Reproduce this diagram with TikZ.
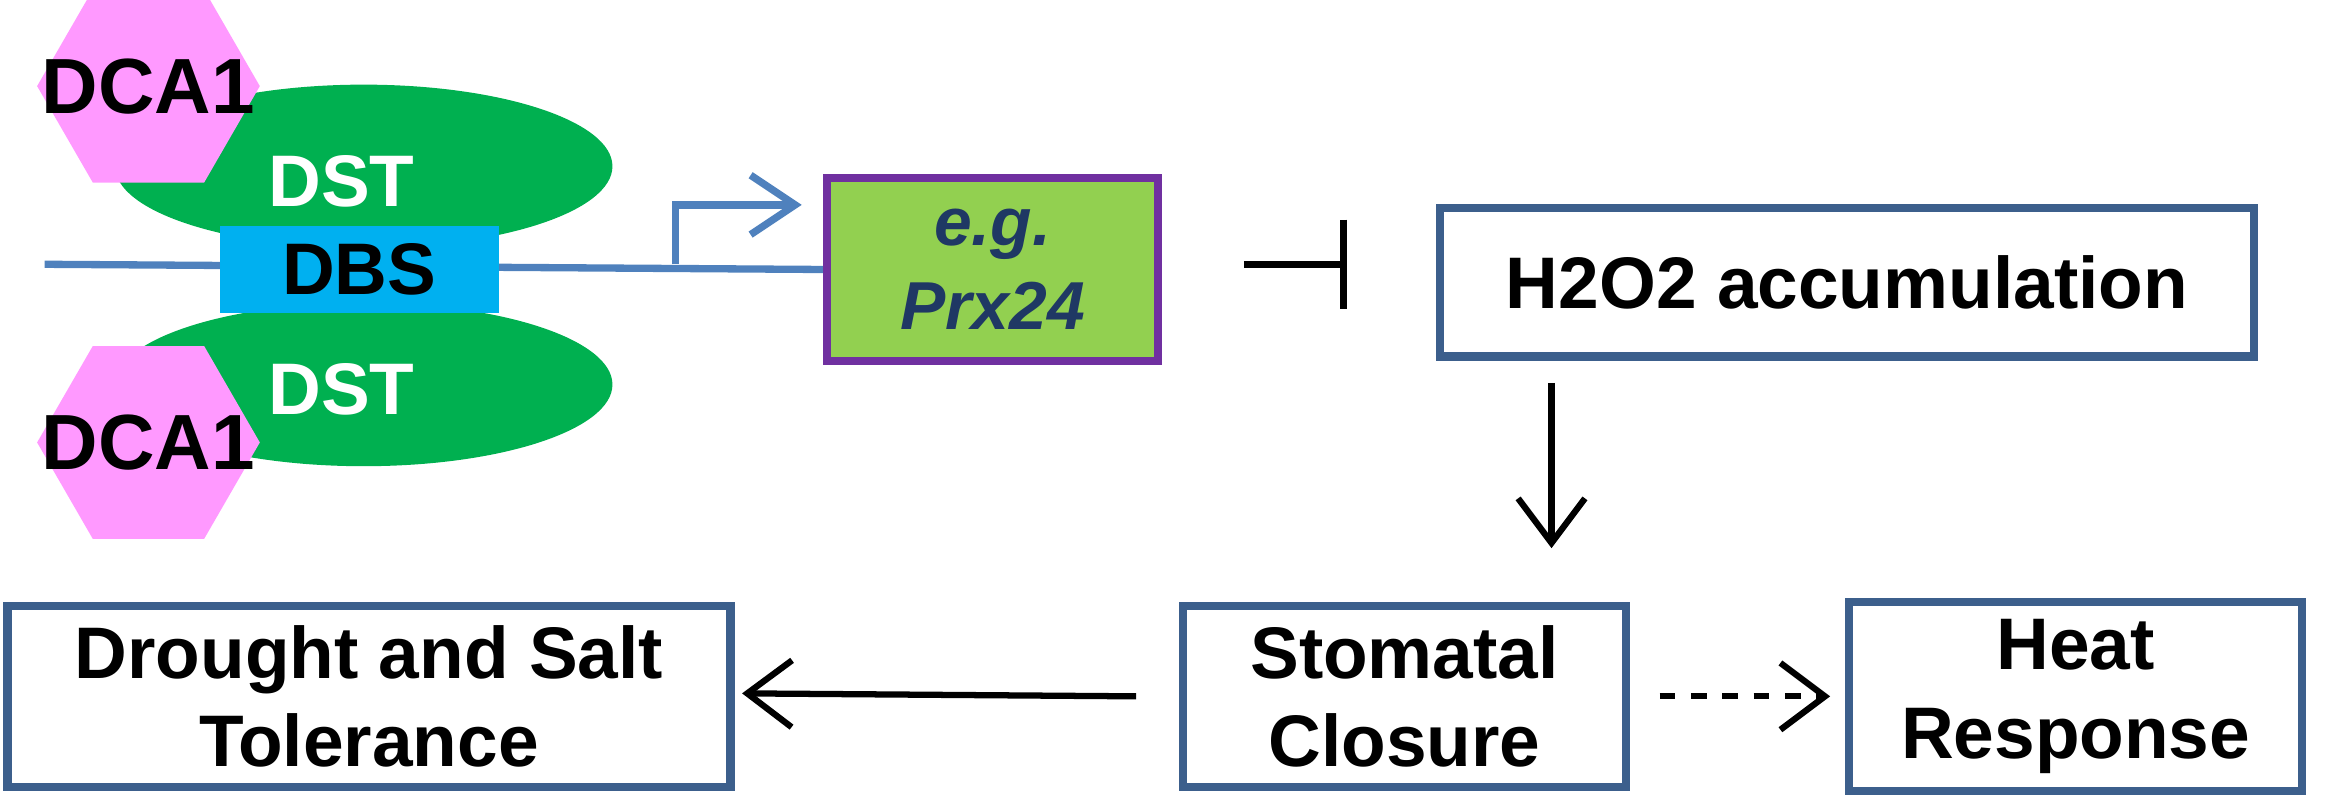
\documentclass[tikz,border=0pt]{standalone}
\usepackage{fontspec}
\setmainfont{Liberation Sans}
\usetikzlibrary{shapes.geometric,arrows.meta,positioning,calc}
\definecolor{dstgreen}{HTML}{00B050}
\definecolor{dbscyan}{HTML}{00B0F0}
\definecolor{dcapink}{HTML}{FF99FF}
\definecolor{dnablue}{HTML}{4F81BD}
\definecolor{boxblue}{HTML}{3C5F8C}
\definecolor{genegreen}{HTML}{92D050}
\definecolor{genepurple}{HTML}{7030A0}
\definecolor{genetext}{HTML}{1F3864}

\begin{document}
\begin{tikzpicture}[
    x=1cm, y=1cm,
    dst/.style={ellipse, fill=dstgreen, minimum width=3.35cm, minimum height=1.1cm, inner sep=0pt},
    dca/.style={regular polygon, regular polygon sides=6, fill=dcapink, minimum size=1.5cm, inner sep=0pt},
    box/.style={rectangle, draw=boxblue, line width=1.6pt, fill=white, align=center, font=\fontsize{14}{17}\selectfont\bfseries},
    arrow/.style={-{Straight Barb[length=3mm,width=4.5mm]}, line width=1.2pt},
    label/.style={font=\fontsize{14}{17}\selectfont\bfseries}
]
\useasboundingbox (0,0) rectangle (15.68,5.39);

% DNA line
\coordinate (dnaL) at (0.30,3.61);
\coordinate (tss) at (4.55,3.61);
\node[rectangle, draw=genepurple, line width=1.6pt, fill=genegreen, minimum width=2.23cm, minimum height=1.23cm, align=center,
      font=\fontsize{13}{16}\selectfont\bfseries\itshape, text=genetext] (gene) at (6.685,3.575) {e.g.\\Prx24};
\draw[dnablue, line width=1.4pt] (dnaL) -- (gene.west);

% DST dimer on the DBS
\node[dst] (dstU) at (2.45,4.27) {};
\node[dst] (dstL) at (2.45,2.80) {};
\node[label, text=white] at (2.30,4.17) {DST};
\node[label, text=white] at (2.30,2.77) {DST};
\node[rectangle, fill=dbscyan, minimum width=1.88cm, minimum height=0.57cm, label] (dbs) at (2.42,3.575) {DBS};

% DCA1
\node[dca] (dcaU) at (1.00,4.81) {};
\node[dca] (dcaL) at (1.00,2.41) {};
\node[font=\fontsize{15}{17}\selectfont\bfseries] at (dcaU) {DCA1};
\node[font=\fontsize{15}{17}\selectfont\bfseries] at (dcaL) {DCA1};

% promoter arrow
\coordinate (tip) at (5.40,4.01);
\draw[dnablue, line width=1.4pt, -{Straight Barb[length=3mm,width=4mm]}] (tss) |- (tip);

% pathway boxes
\node[box, minimum width=5.48cm, minimum height=1.0cm] (h2o2) at (12.44,3.49) {H2O2 accumulation};
\node[box, minimum width=2.98cm, minimum height=1.22cm] (stom) at (9.46,0.70) {Stomatal\\Closure};
\node[box, minimum width=4.87cm, minimum height=1.22cm] (drought) at (2.485,0.70) {Drought and Salt\\Tolerance};
\node[box, minimum width=3.05cm, minimum height=1.22cm] (heat) at (13.98,0.70) {Heat\\Response};

% inhibition
\coordinate (bar) at (9.05,3.61);
\draw[line width=1.4pt] ([xshift=5.5mm]gene.east |- bar) -- (bar);
\draw[line width=1.4pt] ([yshift=3mm]bar) -- ([yshift=-3mm]bar);

% arrows
\coordinate (down) at ($(h2o2.south)+(-1.99,-0.15)$);
\draw[arrow] (down) -- ($(down |- stom.north)+(0,0.36)$);
\draw[arrow] ([xshift=-2.9mm]stom.west) -- ([xshift=0.5mm,yshift=0.2mm]drought.east);
\draw[arrow, dashed] ([xshift=2mm]stom.east) -- ([xshift=-1mm]heat.west);

\end{tikzpicture}
\end{document}
